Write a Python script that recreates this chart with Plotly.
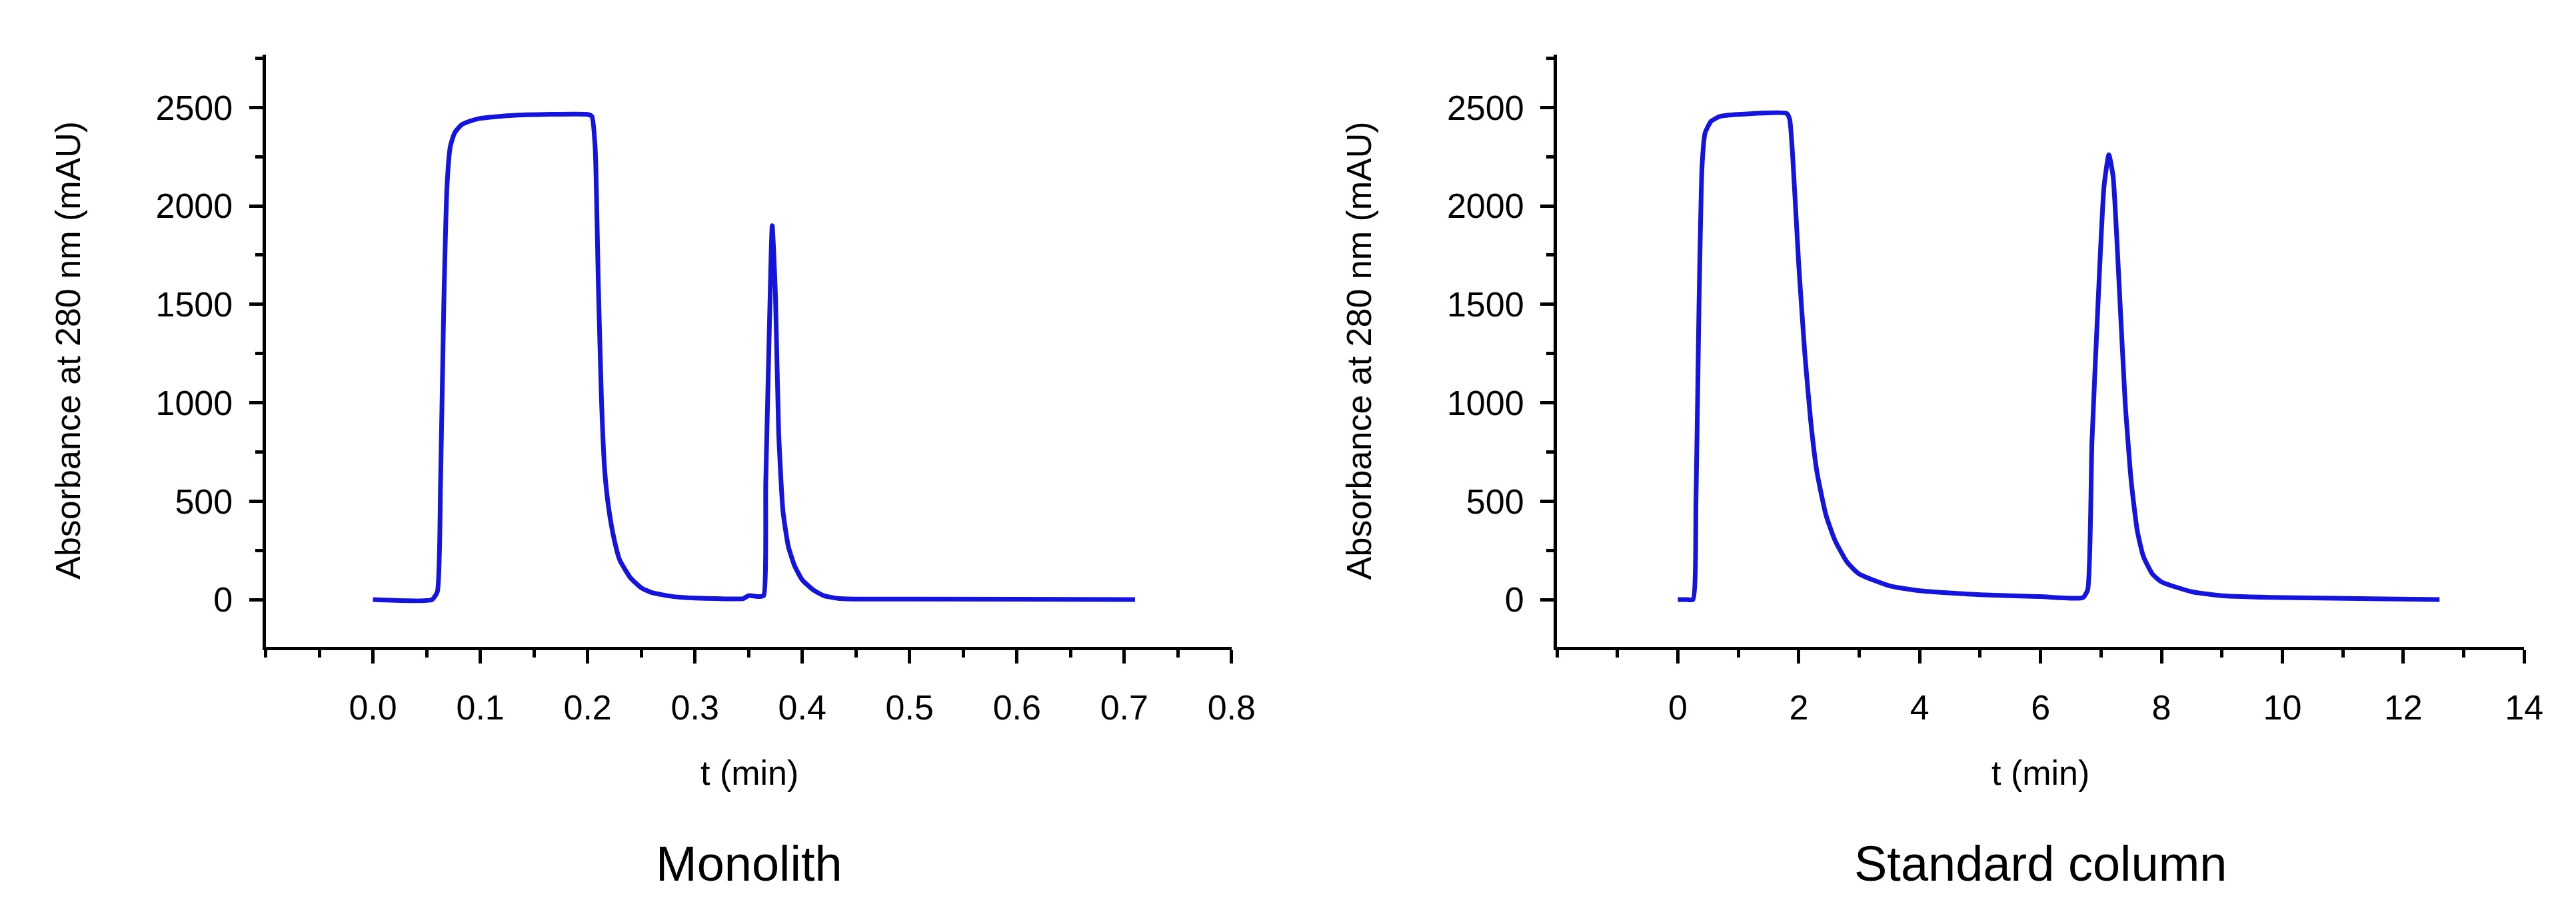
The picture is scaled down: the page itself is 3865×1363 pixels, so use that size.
import plotly.graph_objects as go

# --- Data ---
MONO_T = [0.0, 0.055, 0.06, 0.063, 0.066, 0.069, 0.072, 0.076, 0.082, 0.09, 0.1, 0.13,
          0.2, 0.204, 0.207, 0.21, 0.213, 0.216, 0.22, 0.225, 0.23, 0.24, 0.25, 0.26,
          0.28, 0.3, 0.32, 0.345, 0.35, 0.36, 0.364, 0.366, 0.369, 0.372, 0.375, 0.378,
          0.382, 0.387, 0.393, 0.4, 0.41, 0.42, 0.435, 0.5, 0.71]
MONO_A = [0, 0, 40, 600, 1500, 2100, 2300, 2370, 2410, 2430, 2445, 2460,
          2465, 2455, 2300, 1600, 1000, 650, 450, 300, 200, 110, 60, 35,
          15, 8, 5, 5, 20, 15, 20, 600, 1300, 1900, 1550, 850,
          450, 270, 170, 100, 50, 20, 5, 3, 0]

STD_T = [0.0, 0.15, 0.25, 0.3, 0.35, 0.4, 0.45, 0.55, 0.7, 1.0, 1.8, 1.85, 1.9, 2.0,
         2.1, 2.2, 2.3, 2.45, 2.6, 2.8, 3.0, 3.5, 4.0, 5.0, 6.0, 6.7, 6.78, 6.85,
         6.95, 7.05, 7.13, 7.2, 7.3, 7.4, 7.5, 7.6, 7.7, 7.85, 8.0, 8.5, 9.0, 10.0, 12.6]
STD_A = [0, 0, 0, 500, 1500, 2200, 2370, 2430, 2455, 2465, 2470, 2440, 2250, 1700,
         1250, 900, 650, 430, 300, 190, 130, 70, 45, 25, 15, 10, 50, 800,
         1500, 2100, 2260, 2150, 1600, 1000, 600, 350, 220, 130, 90, 40, 20, 10, 0]

Y_TICKS = [0, 500, 1000, 1500, 2000, 2500]
MONO_XTICKS = [0.0, 0.1, 0.2, 0.3, 0.4, 0.5, 0.6, 0.7, 0.8]
STD_XTICKS = [0, 2, 4, 6, 8, 10, 12, 14]

LINE = "#1414dc"
FONT = "Liberation Sans, Arial, sans-serif"

fig = go.Figure()
fig.add_trace(go.Scatter(x=MONO_T, y=MONO_A, mode="lines", xaxis="x", yaxis="y",
                         line=dict(color=LINE, width=7, shape="spline", smoothing=0.5),
                         showlegend=False))
fig.add_trace(go.Scatter(x=STD_T, y=STD_A, mode="lines", xaxis="x2", yaxis="y2",
                         line=dict(color=LINE, width=7, shape="spline", smoothing=0.5),
                         showlegend=False))

common = dict(showgrid=False, zeroline=False, showline=True, linecolor="black",
              linewidth=5, ticks="outside", ticklen=20, tickwidth=5, tickcolor="black",
              tickfont=dict(family=FONT, size=52, color="black"))

xmono = dict(common, domain=[0.102, 0.4805], range=[-0.1, 0.8], anchor="y",
             tickvals=MONO_XTICKS, ticktext=[f"{v:.1f}" for v in MONO_XTICKS],
             minor=dict(dtick=0.05, tick0=0, ticks="outside", ticklen=11, tickwidth=5,
                        tickcolor="black"), ticklabelstandoff=22)
xstd = dict(common, domain=[0.608, 0.987], range=[-2, 14], anchor="y2",
            tickvals=STD_XTICKS,
            minor=dict(dtick=1, tick0=0, ticks="outside", ticklen=11, tickwidth=5,
                       tickcolor="black"), ticklabelstandoff=22)
ycommon = dict(common, range=[-240, 2770], tickvals=Y_TICKS, domain=[0.2935, 0.946],
               minor=dict(dtick=250, tick0=0, ticks="outside", ticklen=11, tickwidth=5,
                          tickcolor="black"), ticklabelstandoff=14)

fig.update_layout(
    width=3865, height=1363,
    margin=dict(l=0, r=0, t=0, b=0),
    paper_bgcolor="white", plot_bgcolor="white",
    xaxis=xmono, yaxis=dict(ycommon, anchor="x"),
    xaxis2=xstd, yaxis2=dict(ycommon, anchor="x2"),
)

ann = [
    ("t (min)", 0.2915, 0.155, 0, 52),
    ("t (min)", 0.7975, 0.155, 0, 52),
    ("Monolith", 0.2915, 0.055, 0, 74),
    ("Standard column", 0.7975, 0.055, 0, 74),
    ("Absorbance at 280 nm (mAU)", 0.0245, 0.62, -90, 52),
    ("Absorbance at 280 nm (mAU)", 0.5305, 0.62, -90, 52),
]
for text, x, y, ang, size in ann:
    fig.add_annotation(text=text, x=x, y=y, xref="paper", yref="paper", showarrow=False,
                       textangle=ang, font=dict(family=FONT, size=size, color="black"),
                       xanchor="center", yanchor="middle")

fig.write_html("out.html")
